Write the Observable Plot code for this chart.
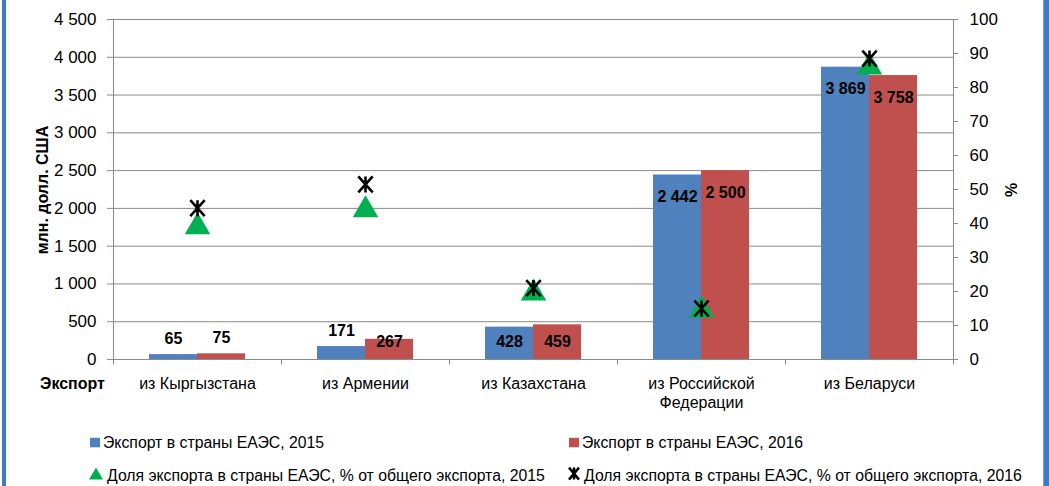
<!DOCTYPE html>
<html>
<head>
<meta charset="utf-8">
<script src="https://cdn.jsdelivr.net/npm/d3@7"></script>
<script src="https://cdn.jsdelivr.net/npm/@observablehq/plot@0.6"></script>
<style>
  body { margin: 0; background: #fff; font-family: "Liberation Sans", Arial, sans-serif; }
  #wrap { position: relative; width: 1049px; height: 486px; overflow: hidden; background: #fff; }
  #chart { position: absolute; left: 0; top: 0; }
  .border { position: absolute; top: 0; height: 486px; background: #3a7dc6; }
  .ytitle { position: absolute; font-weight: bold; font-size: 16px; color: #000; white-space: nowrap;
            transform: translate(-50%, -50%) rotate(-90deg); }
  .xtitle { position: absolute; font-weight: bold; font-size: 16px; color: #000; transform: translateY(-50%); }
  .leg { position: absolute; font-size: 15.8px; color: #000; white-space: nowrap; transform: translateY(-50%); }
  .sw { display: inline-block; vertical-align: middle; }
</style>
</head>
<body>
<div id="wrap">
  <div id="chart"></div>
  <div class="border" style="left:2px;width:4px"></div>
  <div class="border" style="left:1043px;width:1px;background:#9a9a9a"></div>
  <div class="border" style="left:1044px;width:5px"></div>
  <div class="ytitle" style="left:43px;top:190px">млн. долл. США</div>
  <div class="ytitle" style="left:1012px;top:190px">%</div>
  <div class="xtitle" style="left:40px;top:384px">Экспорт</div>
  <div id="legend"></div>
</div>
<script>
// ---- data ----
const categories = ["из Кыргызстана", "из Армении", "из Казахстана", "из Российской\nФедерации", "из Беларуси"];
const export2015 = [65, 171, 428, 2442, 3869];
const export2016 = [75, 267, 459, 2500, 3758];
const share2015 = [39, 44, 19.5, 14.5, 86];
const share2016 = [44.5, 51.5, 21, 15, 88.5];
const leftTicks = [0, 500, 1000, 1500, 2000, 2500, 3000, 3500, 4000, 4500];
const rightTicks = [0, 10, 20, 30, 40, 50, 60, 70, 80, 90, 100];
const seriesNames = [
  "Экспорт в страны ЕАЭС, 2015",
  "Экспорт в страны ЕАЭС, 2016",
  "Доля экспорта в страны ЕАЭС, % от общего экспорта, 2015",
  "Доля экспорта в страны ЕАЭС, % от общего экспорта, 2016"
];

// ---- styling ----
const blue = "#4f81bd", red = "#c0504d", green = "#00b050", gray = "#8a8a8a";
const W = 1049, H = 420, mT = 19, mB = 61, mL = 113, mR = 96;
const yMax = 4500, pctMax = 100, pctK = yMax / pctMax;
const plotH = H - mT - mB;
const k = yMax / plotH; // data units per pixel
const band = (W - mL - mR) / categories.length;
const barW = band * 2 / 7;
const locale = d3.formatLocale({decimal: ",", thousands: "\u00a0", grouping: [3], currency: ["", ""]});
const fmt = locale.format(",");

const rows = categories.map((c, i) => ({cat: c, v15: export2015[i], v16: export2016[i], p15: share2015[i], p16: share2016[i]}));

function labelY(v) {
  const px = v / k;
  return px < 16 ? v + 16 * k : v - Math.min(22, px - 18) * k;
}

const starSymbol = {
  draw(ctx, size) {
    const r = Math.sqrt(size / Math.PI);
    const a = r * 0.9;
    ctx.moveTo(0, -r); ctx.lineTo(0, r);
    ctx.moveTo(-a, -r); ctx.lineTo(a, r);
    ctx.moveTo(a, -r); ctx.lineTo(-a, r);
  }
};
const tickDown = { draw(ctx) { ctx.moveTo(0, 0); ctx.lineTo(0, 5); } };

const chart = Plot.plot({
  width: W, height: H,
  marginTop: mT, marginBottom: mB, marginLeft: mL, marginRight: mR,
  style: {fontFamily: "'Liberation Sans', Arial, sans-serif", fontSize: "16px", color: "#000", background: "transparent"},
  x: {domain: categories, padding: 0, axis: null},
  y: {domain: [0, yMax], axis: null},
  marks: [
    Plot.gridY(leftTicks, {stroke: gray, strokeOpacity: 1}),
    Plot.frame({stroke: gray}),
    Plot.barY(rows, {x: "cat", y: "v15", fill: blue, insetLeft: band / 2 - barW, insetRight: band / 2}),
    Plot.barY(rows, {x: "cat", y: "v16", fill: red, insetLeft: band / 2, insetRight: band / 2 - barW}),
    Plot.ruleY([0], {stroke: gray}),
    Plot.dot(rows, {x: "cat", y: () => 0, dx: -band / 2, symbol: tickDown, stroke: gray, strokeWidth: 1}),
    Plot.dot(rows.slice(-1), {x: "cat", y: () => 0, dx: band / 2, symbol: tickDown, stroke: gray, strokeWidth: 1}),
    Plot.axisY({anchor: "left", ticks: leftTicks, tickFormat: fmt, tickSize: 6, tickPadding: 11, stroke: gray, fontSize: 17, label: null}),
    Plot.axisY({anchor: "right", ticks: rightTicks.map(p => p * pctK), tickFormat: d => String(Math.round(d / pctK)), tickSize: 4, tickPadding: 12, stroke: gray, fontSize: 17, label: null}),
    Plot.axisX({anchor: "bottom", tickSize: 0, tickPadding: 16, fontSize: 16, lineHeight: 1.2, label: null, textAnchor: "middle"}),
    Plot.text(rows, {x: "cat", y: d => labelY(d.v15), text: d => fmt(d.v15), dx: -barW / 2, fontWeight: "bold", fontSize: 16, fill: "#000"}),
    Plot.text(rows, {x: "cat", y: d => labelY(d.v16), text: d => fmt(d.v16), dx: barW / 2, fontWeight: "bold", fontSize: 16, fill: "#000"}),
    Plot.dot(rows, {x: "cat", y: d => d.p15 * pctK, symbol: "triangle", r: 8.5, fill: green, stroke: green}),
    Plot.dot(rows, {x: "cat", y: d => d.p16 * pctK, symbol: starSymbol, r: 8, stroke: "#000", strokeWidth: 2.6, fill: "none"})
  ]
});
document.getElementById("chart").appendChild(chart);

// ---- legend (HTML) ----
const legend = document.getElementById("legend");
const legendItems = [
  {name: seriesNames[0], left: 90, top: 442, sw: `<svg width="10" height="10"><rect width="10" height="10" fill="${blue}"/></svg>`},
  {name: seriesNames[1], left: 569, top: 442, sw: `<svg width="10" height="10"><rect width="10" height="10" fill="${red}"/></svg>`},
  {name: seriesNames[2], left: 88, top: 475, sw: `<svg width="16" height="14"><path d="M8,1L15,13L1,13Z" fill="${green}"/></svg>`},
  {name: seriesNames[3], left: 567, top: 475, sw: `<svg width="14" height="14"><path d="M7,1V13M2,1L12,13M12,1L2,13" stroke="#000" stroke-width="2.5"/></svg>`}
];
for (const it of legendItems) {
  const d = document.createElement("div");
  d.className = "leg";
  d.style.left = it.left + "px";
  d.style.top = it.top + "px";
  d.innerHTML = `<span class="sw">${it.sw}</span><span style="vertical-align:middle;margin-left:3px">${it.name}</span>`;
  legend.appendChild(d);
}
</script>
</body>
</html>
